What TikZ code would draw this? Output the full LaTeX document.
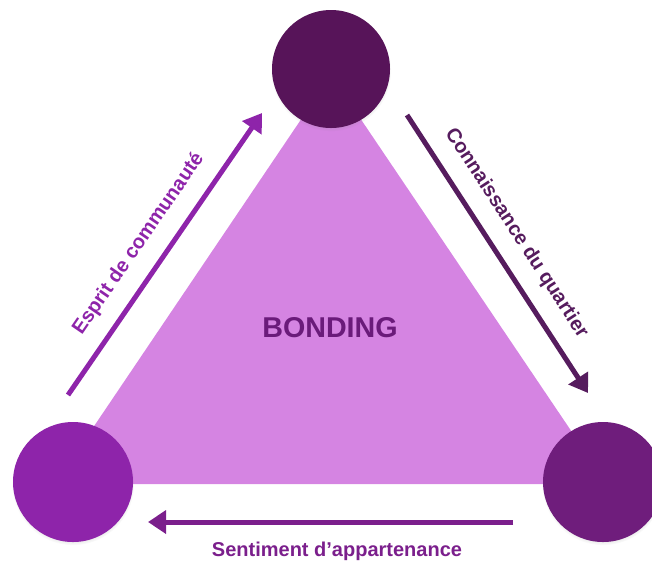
\documentclass[tikz,border=0pt]{standalone}
\usepackage{fontspec}
\setmainfont{Liberation Sans}
\usetikzlibrary{arrows.meta,shadows}
\definecolor{cTop}{HTML}{571459}
\definecolor{cLeft}{HTML}{8E24AA}
\definecolor{cRight}{HTML}{6F1D7C}
\definecolor{cTri}{HTML}{D584E2}
\definecolor{cBond}{HTML}{6A1B7A}
\definecolor{cArrL}{HTML}{8E24AA}
\definecolor{cArrR}{HTML}{561C5E}
\definecolor{cArrB}{HTML}{7B1F8C}
\tikzset{
  ball/.style={circle, inner sep=0pt, minimum size=#1,
    circular drop shadow={shadow xshift=0pt, shadow yshift=-1.5pt, shadow scale=1.02, opacity=0.35}},
  flow/.style={line width=3.75pt, -{Triangle[length=13.5pt,width=17pt]}},
  lab/.style={font=\fontsize{15}{18}\selectfont\bfseries, inner sep=0pt, anchor=base},
}
\begin{document}
\begin{tikzpicture}[x=0.75pt,y=-0.75pt]
\useasboundingbox (0,0) rectangle (652,569);
% triangle
\fill[cTri] (331,75) -- (55,484) -- (607,484) -- cycle;
\node[font=\fontsize{21.5}{24}\selectfont\bfseries, text=cBond, anchor=base, inner sep=0pt] (bond) at (330,337) {BONDING};
% circles
\node[ball=88.5pt, fill=cTop] (top) at (331,69) {};
\node[ball=90pt, fill=cLeft] (left) at (73,482) {};
\node[ball=90pt, fill=cRight] (right) at (603,482) {};
% arrow ends
\coordinate (l1) at (68,395);
\coordinate (l2) at (262,113);
\coordinate (r1) at (407,115);
\coordinate (r2) at (588,393);
\coordinate (b1) at (513,522);
\coordinate (b2) at (148,522);
\draw[flow, cArrL] (l1) -- (l2);
\draw[flow, cArrR] (r1) -- (r2);
\draw[flow, cArrB] (b1) -- (b2);
% labels
\node[lab, text=cArrL, rotate=55.5] (labL) at (143,247) {Esprit de communauté};
\node[lab, text=cArrR, rotate=-56.9] (labR) at (512,236) {Connaissance du quartier};
\node[lab, text=cArrB] (labB) at (337,556) {Sentiment d’appartenance};
\end{tikzpicture}
\end{document}
